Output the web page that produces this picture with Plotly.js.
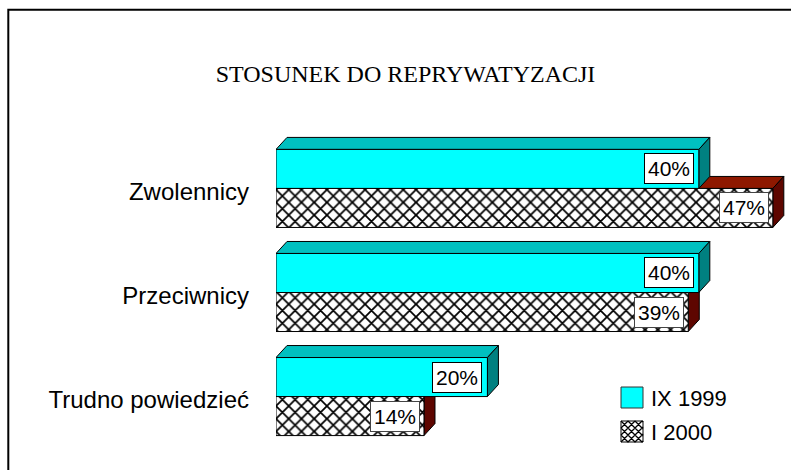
<!DOCTYPE html>
<html>
<head>
<meta charset="utf-8">
<script src="https://cdn.plot.ly/plotly-3.0.1.min.js"></script>
<style>html,body{margin:0;padding:0;background:#fff;}#chart{width:791px;height:470px;}</style>
</head>
<body>
<div id="chart"></div>
<script>
// ---- data ----
const categories = ['Zwolennicy', 'Przeciwnicy', 'Trudno powiedzieć'];
const seriesNames = ['IX 1999', 'I 2000'];
const ix1999 = [40, 40, 20];
const i2000 = [47, 39, 14];
const chartTitle = 'STOSUNEK DO REPRYWATYZACJI';

// ---- geometry (pixels) ----
const FW = 791, FH = 470;
const L = 276, R = 0, T = 126, B = 11;
const W = FW - L - R, H = FH - T - B;
const XMAX = 48.72;
const DXPX = 11, DYPX = 12;
const dx = DXPX * XMAX / W;
const dy = DYPX * 3.2 / H;
const half = 0.1875;
const P = px => (px - L) / W;
const Q = py => (T + H - py) / H;

const cyan = '#00FFFF', cyanTop = '#00C0C0', cyanSide = '#008080';
const redTop = '#8E1800', redSide = '#5E0600';

const traces = [
  {
    type: 'bar', orientation: 'h', name: seriesNames[0],
    y: categories, x: ix1999,
    marker: {color: cyan, line: {color: '#000', width: 1}},
    hoverinfo: 'none', showlegend: false
  },
  {
    type: 'bar', orientation: 'h', name: seriesNames[1],
    y: categories, x: i2000,
    marker: {color: '#fff', line: {color: '#000', width: 1},
      pattern: {shape: 'x', fgcolor: '#000', bgcolor: '#fff', size: 9, solidity: 0.35}},
    hoverinfo: 'none', showlegend: false
  }
];

function faces(values, off, topC, sideC) {
  const out = [];
  values.forEach((v, i) => {
    const yt = i + off - half, yb = i + off + half;
    out.push({type: 'path', xref: 'x', yref: 'y', layer: 'below',
      path: `M0,${yt} L${dx},${yt - dy} L${v + dx},${yt - dy} L${v},${yt} Z`,
      fillcolor: topC, line: {color: '#000', width: 1}});
    out.push({type: 'path', xref: 'x', yref: 'y', layer: 'below',
      path: `M${v},${yt} L${v + dx},${yt - dy} L${v + dx},${yb - dy} L${v},${yb} Z`,
      fillcolor: sideC, line: {color: '#000', width: 1}});
  });
  return out;
}

const shapes = [].concat(
  faces(i2000, half, redTop, redSide),
  faces(ix1999, -half, cyanTop, cyanSide)
);

// frame
shapes.push({type: 'rect', xref: 'paper', yref: 'paper',
  x0: P(8.3), x1: P(820), y0: Q(9.7), y1: Q(500),
  line: {color: '#000', width: 2}, fillcolor: 'rgba(0,0,0,0)'});

// legend swatches
const sw1 = {x0: 621, x1: 643, y0: 387, y1: 408};
const sw2 = {x0: 621, x1: 643, y0: 421, y1: 442};
shapes.push({type: 'rect', xref: 'paper', yref: 'paper',
  x0: P(sw1.x0), x1: P(sw1.x1), y0: Q(sw1.y1), y1: Q(sw1.y0),
  fillcolor: cyan, line: {color: '#333', width: 1}});
shapes.push({type: 'rect', xref: 'paper', yref: 'paper',
  x0: P(sw2.x0), x1: P(sw2.x1), y0: Q(sw2.y1), y1: Q(sw2.y0),
  fillcolor: '#fff', line: {color: '#000', width: 1}});
(function hatch() {
  const w = sw2.x1 - sw2.x0, h = sw2.y1 - sw2.y0, step = 7;
  let d = '';
  for (let c = -h; c <= w; c += step) {
    const u0 = Math.max(0, c), u1 = Math.min(w, h + c);
    if (u1 > u0) d += `M${P(sw2.x0 + u0)},${Q(sw2.y0 + u0 - c)} L${P(sw2.x0 + u1)},${Q(sw2.y0 + u1 - c)} `;
  }
  for (let c = 0; c <= w + h; c += step) {
    const u0 = Math.max(0, c - h), u1 = Math.min(w, c);
    if (u1 > u0) d += `M${P(sw2.x0 + u0)},${Q(sw2.y0 + c - u0)} L${P(sw2.x0 + u1)},${Q(sw2.y0 + c - u1)} `;
  }
  shapes.push({type: 'path', xref: 'paper', yref: 'paper', path: d,
    line: {color: '#000', width: 1.3}});
})();

// value labels
const annFont = {family: 'Liberation Sans, Arial, sans-serif', size: 21, color: '#000'};
const annotations = [];
ix1999.forEach((v, i) => annotations.push({
  x: v, y: i - half, xref: 'x', yref: 'y', text: v + '%', showarrow: false,
  xanchor: 'right', yanchor: 'middle', xshift: -5, font: annFont,
  bgcolor: '#fff', bordercolor: '#000', borderwidth: 1, borderpad: 3
}));
i2000.forEach((v, i) => annotations.push({
  x: v, y: i + half, xref: 'x', yref: 'y', text: v + '%', showarrow: false,
  xanchor: 'right', yanchor: 'middle', xshift: -4, font: annFont,
  bgcolor: '#fff', bordercolor: '#444', borderwidth: 1, borderpad: 3
}));
// legend texts
const legFont = {family: 'Liberation Sans, Arial, sans-serif', size: 22, color: '#000'};
annotations.push({xref: 'paper', yref: 'paper', x: P(649), y: Q(398), text: seriesNames[0],
  showarrow: false, xanchor: 'left', yanchor: 'middle', font: legFont});
annotations.push({xref: 'paper', yref: 'paper', x: P(649), y: Q(432), text: seriesNames[1],
  showarrow: false, xanchor: 'left', yanchor: 'middle', font: legFont});

const layout = {
  width: FW, height: FH,
  margin: {l: L, r: R, t: T, b: B, pad: 0},
  paper_bgcolor: '#fff', plot_bgcolor: '#fff',
  title: {text: chartTitle, x: 405.5 / FW, xanchor: 'center', y: 1 - 74 / FH, yanchor: 'middle',
    font: {family: 'Liberation Serif, Times New Roman, serif', size: 24, color: '#000'}},
  barmode: 'group', bargap: 0.25, bargroupgap: 0,
  showlegend: false,
  xaxis: {visible: false, range: [0, XMAX], fixedrange: true},
  yaxis: {type: 'category', range: [2.6, -0.6], showgrid: false, zeroline: false, showline: false,
    ticks: '', ticklabelstandoff: 26, ticklabelshift: -3,
    tickfont: {family: 'Liberation Sans, Arial, sans-serif', size: 24, color: '#000'}},
  shapes: shapes,
  annotations: annotations
};

Plotly.newPlot('chart', traces, layout, {staticPlot: true, displayModeBar: false});
</script>
</body>
</html>
